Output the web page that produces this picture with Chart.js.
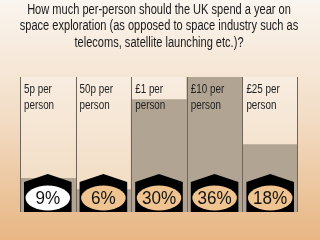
<!DOCTYPE html>
<html>
<head>
<meta charset="utf-8">
<script src="https://cdn.jsdelivr.net/npm/chart.js@4.4.1/dist/chart.umd.min.js"></script>
<style>
  html, body { margin: 0; padding: 0; background: #f3dcc2; }
  canvas { display: block; }
</style>
</head>
<body>
<canvas id="voteChart" width="320" height="240"></canvas>
<script>
// 데이터
var titleLines = [
    "How much per-person should the UK spend a year on",
    "space exploration (as opposed to space industry such as",
    "telecoms, satellite launching etc.)?"
];
var categories = [["5p per", "person"], ["50p per", "person"], ["£1 per", "person"], ["£10 per", "person"], ["£25 per", "person"]];
var votes = [9, 6, 30, 36, 18];
var ovalColors = ["#ffffff", "#f0c490", "#f0c490", "#f0c490", "#f0c490"];

var FONT = "'Liberation Sans', Arial, sans-serif";

// 좁은 글꼴처럼 가로로 눌러서 쓰기 (Arial Narrow 흉내)
function narrowText(ctx, text, x, y, align, sx) {
    ctx.save();
    ctx.translate(x, y);
    ctx.scale(sx, 1);
    ctx.textAlign = align;
    ctx.fillText(text, 0, 0);
    ctx.restore();
}

var slidePlugin = {
    id: 'slide',
    beforeDraw: function(chart) {
        var ctx = chart.ctx;
        var g = ctx.createLinearGradient(0, 0, 0, chart.height);
        g.addColorStop(0, '#faf5ef');
        g.addColorStop(0.5, '#f2dcc4');
        g.addColorStop(1, '#e8b683');
        ctx.save();
        ctx.fillStyle = g;
        ctx.fillRect(0, 0, chart.width, chart.height);
        // 제목
        ctx.fillStyle = '#1a1a1a';
        ctx.font = '14px ' + FONT;
        ctx.textBaseline = 'middle';
        titleLines.forEach(function(line, i) {
            narrowText(ctx, line, chart.width / 2 - 1, 10 + i * 16.5, 'center', 0.79);
        });
        ctx.restore();
    },
    beforeDatasetsDraw: function(chart) {
        var ctx = chart.ctx;
        var area = chart.chartArea;
        var meta = chart.getDatasetMeta(0);
        var g = ctx.createLinearGradient(0, area.top, 0, area.bottom);
        g.addColorStop(0, '#f8ede1');
        g.addColorStop(1, '#f1d9bd');
        ctx.save();
        ctx.fillStyle = g;
        meta.data.forEach(function(bar) {
            ctx.fillRect(bar.x - bar.width / 2, area.top, bar.width, area.bottom - area.top);
        });
        ctx.restore();
    },
    afterDatasetsDraw: function(chart) {
        var ctx = chart.ctx;
        var area = chart.chartArea;
        var meta = chart.getDatasetMeta(0);
        ctx.save();
        // 컬럼 구분선
        ctx.strokeStyle = '#6f655a';
        ctx.lineWidth = 1;
        meta.data.forEach(function(bar, i) {
            var left = Math.round(bar.x - bar.width / 2) + 0.5;
            ctx.beginPath();
            ctx.moveTo(left, area.top);
            ctx.lineTo(left, area.bottom);
            ctx.stroke();
            if (i === meta.data.length - 1) {
                var right = Math.round(bar.x + bar.width / 2) - 0.5;
                ctx.beginPath();
                ctx.moveTo(right, area.top);
                ctx.lineTo(right, area.bottom);
                ctx.stroke();
            }
        });
        // 컬럼 라벨
        ctx.fillStyle = '#222222';
        ctx.font = '12px ' + FONT;
        ctx.textBaseline = 'middle';
        meta.data.forEach(function(bar, i) {
            var left = bar.x - bar.width / 2 + 4;
            categories[i].forEach(function(line, j) {
                narrowText(ctx, line, left, area.top + 13 + j * 16, 'left', 0.82);
            });
        });
        // 퍼센트 배지
        meta.data.forEach(function(bar, i) {
            var cx = bar.x;
            var half = bar.width / 2 - 4;
            var bottom = area.bottom;
            var peak = bottom - 38;
            var shoulder = bottom - 30;
            ctx.fillStyle = '#000000';
            ctx.beginPath();
            ctx.moveTo(cx, peak);
            ctx.lineTo(cx + half, shoulder);
            ctx.lineTo(cx + half, bottom);
            ctx.lineTo(cx - half, bottom);
            ctx.lineTo(cx - half, shoulder);
            ctx.closePath();
            ctx.fill();
            ctx.fillStyle = ovalColors[i];
            ctx.beginPath();
            ctx.ellipse(cx, bottom - 14, half - 1.5, 12.5, 0, 0, Math.PI * 2);
            ctx.fill();
            ctx.fillStyle = '#111111';
            ctx.font = '18px ' + FONT;
            narrowText(ctx, votes[i] + '%', cx, bottom - 13, 'center', 0.95);
        });
        ctx.restore();
    }
};

var ctx = document.getElementById('voteChart').getContext('2d');
var chart = new Chart(ctx, {
    type: 'bar',
    data: {
        labels: categories,
        datasets: [{
            data: votes,
            backgroundColor: '#b2a493',
            borderWidth: 0,
            barPercentage: 1,
            categoryPercentage: 1
        }]
    },
    options: {
        responsive: false,
        animation: false,
        layout: {
            padding: { left: 20, right: 22, top: 77, bottom: 28 }
        },
        scales: {
            x: { display: false },
            y: { display: false, min: 0, max: 36 }
        },
        plugins: {
            legend: { display: false },
            tooltip: { enabled: false },
            title: { display: false }
        }
    },
    plugins: [slidePlugin]
});
</script>
</body>
</html>
